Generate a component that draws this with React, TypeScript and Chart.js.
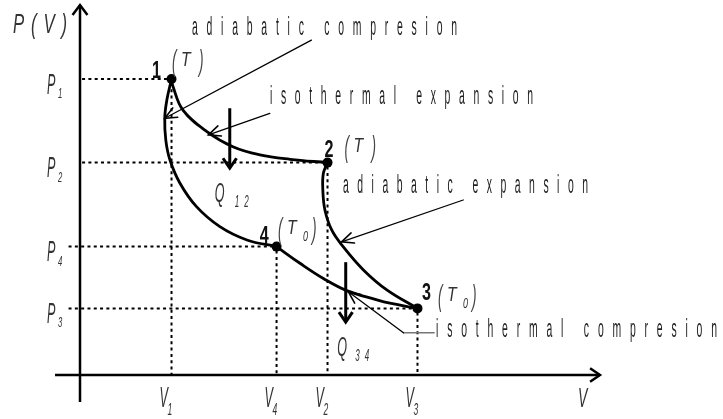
import React, { useEffect, useRef } from 'react';
import { Chart, registerables } from 'chart.js';

Chart.register(...registerables);

// ---------- DATA (arbitrary V / P units) ----------
const stateNames = ['1', '2', '3', '4'];
const stateTemps = ['T', 'T', 'T0', 'T0'];
const stateV = [1.76, 4.76, 6.49, 3.78];
const stateP = [8.0, 5.74, 1.8, 3.47];

// curve samples
const isoExpV = [1.76, 1.79, 1.98, 2.44, 2.94, 3.46, 4.04, 4.76];
const isoExpP = [8.0, 7.79, 7.16, 6.58, 6.17, 5.95, 5.83, 5.74];
const adiExpV = [4.76, 4.68, 4.67, 4.71, 4.84, 5.06, 5.45, 5.9, 6.49];
const adiExpP = [5.74, 5.45, 5.0, 4.46, 3.92, 3.47, 2.84, 2.3, 1.8];
const isoCompV = [6.49, 5.96, 5.71, 5.13, 4.68, 4.23, 3.78];
const isoCompP = [1.8, 1.94, 2.03, 2.28, 2.61, 3.02, 3.47];
const adiCompV = [3.78, 3.21, 2.69, 2.24, 1.92, 1.73, 1.65, 1.63, 1.67, 1.76];
const adiCompP = [3.47, 3.65, 4.01, 4.55, 5.19, 5.81, 6.35, 6.95, 7.43, 8.0];

// process annotations (leader tail -> arrow head)
const processNames = ['adiabatic compresion', 'isothermal expansion', 'adiabatic expansion', 'isothermal compresion'];
const leaderTailV = [4.45, 3.65, 7.37, 6.22];
const leaderTailP = [9.05, 7.07, 4.73, 1.14];
const leaderHeadV = [1.63, 2.47, 5.03, 5.16];
const leaderHeadP = [6.94, 6.49, 3.6, 2.25];
const leaderStubV = [NaN, NaN, NaN, 6.81]; // grey horizontal stub (text side)

// heat arrows
const heatNames = ['12', '34'];
const heatV = [2.88, 5.11];
const heatTopP = [7.21, 3.05];
const heatBotP = [5.59, 1.43];

// guide start (V) for the horizontal dotted lines of each state
const guideStartV = [0.04, 0.04, -0.22, -0.22];

const axisLabelY = 'P(V)';
const axisLabelX = 'V';

// ---------- LAYOUT (pixels / styles) ----------
const FONT = '"Liberation Sans", Arial, sans-serif';
const TEXT = '#1e1e1e';
const procText = [
  { x: 192, y: 35, w: 265 },
  { x: 270, y: 104, w: 263 },
  { x: 343, y: 193, w: 245 },
  { x: 436, y: 337, w: 281 },
];
const digitOff = [
  [-19.5, -1],
  [-3, -5.5],
  [4.5, -8.5],
  [-16.7, -3.5],
];
const parenOff = [
  [0.5, -8],
  [17, -5.5],
  [20.5, -2.5],
  [1.5, -7.5],
];
const heatQdx = [-15, -8.5];
const heatSubDx = [20, 18];

type TOpts = { size: number; sx: number; width?: number; gap?: number; italic?: boolean; bold?: boolean; color?: string };

function txt(ctx: CanvasRenderingContext2D, text: string, x: number, y: number, o: TOpts) {
  ctx.save();
  ctx.font = `${o.italic ? 'italic ' : ''}${o.bold ? 'bold ' : ''}${o.size}px ${FONT}`;
  ctx.fillStyle = o.color || TEXT;
  ctx.textBaseline = 'alphabetic';
  ctx.textAlign = 'left';
  (ctx as any).letterSpacing = '0px';
  const w0 = ctx.measureText(text).width * o.sx;
  const n = Array.from(text).length;
  let gap = o.gap ?? 0;
  if (o.width != null && n > 1) gap = (o.width - w0) / (n - 1);
  ctx.translate(x, y);
  ctx.scale(o.sx, 1);
  (ctx as any).letterSpacing = `${gap / o.sx}px`;
  ctx.fillText(text, 0, 0);
  ctx.restore();
}

function line(ctx: CanvasRenderingContext2D, x1: number, y1: number, x2: number, y2: number) {
  ctx.beginPath();
  ctx.moveTo(x1, y1);
  ctx.lineTo(x2, y2);
  ctx.stroke();
}

function head(ctx: CanvasRenderingContext2D, tx: number, ty: number, fx: number, fy: number, len: number, ang: number) {
  const a = Math.atan2(fy - ty, fx - tx);
  ctx.beginPath();
  ctx.moveTo(tx + len * Math.cos(a + ang), ty + len * Math.sin(a + ang));
  ctx.lineTo(tx, ty);
  ctx.lineTo(tx + len * Math.cos(a - ang), ty + len * Math.sin(a - ang));
  ctx.stroke();
}

const diagramPlugin = {
  id: 'diagram',
  beforeDatasetsDraw(chart: any) {
    const ctx: CanvasRenderingContext2D = chart.ctx;
    const xs = chart.scales.x;
    const ys = chart.scales.y;
    const X = (v: number) => xs.getPixelForValue(v);
    const Y = (p: number) => ys.getPixelForValue(p);
    ctx.save();
    // dotted guides
    ctx.strokeStyle = '#000';
    ctx.lineWidth = 2;
    ctx.setLineDash([3, 3.3]);
    for (let i = 0; i < stateV.length; i++) {
      line(ctx, X(guideStartV[i]), Y(stateP[i]), X(stateV[i]), Y(stateP[i]));
      line(ctx, X(stateV[i]), Y(stateP[i]) + 4, X(stateV[i]), Y(0));
    }
    ctx.setLineDash([]);
    // axes
    ctx.lineWidth = 2.5;
    ctx.lineCap = 'butt';
    line(ctx, X(0), Y(-0.73), X(0), Y(10));
    line(ctx, X(-0.48), Y(0), X(10), Y(0));
    head(ctx, X(0), Y(10), X(0), Y(9), 12.5, 0.64);
    head(ctx, X(10), Y(0), X(9), Y(0), 12, 0.6);
    ctx.restore();
  },
  afterDatasetsDraw(chart: any) {
    const ctx: CanvasRenderingContext2D = chart.ctx;
    const xs = chart.scales.x;
    const ys = chart.scales.y;
    const X = (v: number) => xs.getPixelForValue(v);
    const Y = (p: number) => ys.getPixelForValue(p);
    ctx.save();
    ctx.lineCap = 'round';
    // leaders
    for (let i = 0; i < processNames.length; i++) {
      const tx = X(leaderTailV[i]), ty = Y(leaderTailP[i]);
      const hx = X(leaderHeadV[i]), hy = Y(leaderHeadP[i]);
      if (!isNaN(leaderStubV[i])) {
        ctx.strokeStyle = '#777';
        ctx.lineWidth = 1.6;
        line(ctx, X(leaderStubV[i]), ty, tx, ty);
      }
      ctx.strokeStyle = '#000';
      ctx.lineWidth = 1.3;
      line(ctx, tx, ty, hx, hy);
      ctx.lineWidth = 1.6;
      head(ctx, hx, hy, tx, ty, 13, 0.42);
      const t = procText[i];
      txt(ctx, processNames[i], t.x, t.y, { size: 26, sx: 0.4, width: t.w });
    }
    // heat arrows
    for (let i = 0; i < heatNames.length; i++) {
      const x = X(heatV[i]);
      const y1 = Y(heatTopP[i]);
      const y2 = Y(heatBotP[i]);
      ctx.strokeStyle = '#000';
      ctx.lineWidth = 3;
      ctx.lineCap = 'butt';
      line(ctx, x, y1, x, y2 - 1);
      ctx.lineJoin = 'miter';
      head(ctx, x, y2, x, y1, 12, 0.6);
      txt(ctx, 'Q', x + heatQdx[i], y2 + 34, { size: 28, sx: 0.45, italic: true, color: '#333' });
      txt(ctx, heatNames[i], x + heatQdx[i] + heatSubDx[i], y2 + 39, { size: 16, sx: 0.5, italic: true, width: 14, color: '#333' });
    }
    // state labels
    for (let i = 0; i < stateNames.length; i++) {
      const px = X(stateV[i]);
      const py = Y(stateP[i]);
      txt(ctx, stateNames[i], px + digitOff[i][0], py + digitOff[i][1], { size: 23, sx: 0.7, bold: true, color: '#111' });
      const x0 = px + parenOff[i][0];
      const b = py + parenOff[i][1];
      const temp = stateTemps[i];
      txt(ctx, '(', x0, b, { size: 30, sx: 0.45, italic: true, color: '#444' });
      txt(ctx, temp.charAt(0), x0 + 9, b - 5, { size: 21, sx: 0.75, italic: true, color: '#333' });
      if (temp.length > 1) {
        txt(ctx, temp.slice(1), x0 + 25, b + 2, { size: 15, sx: 0.6, italic: true, color: '#333' });
        txt(ctx, ')', x0 + 34, b, { size: 30, sx: 0.45, italic: true, color: '#444' });
      } else {
        txt(ctx, ')', x0 + 27, b, { size: 30, sx: 0.45, italic: true, color: '#444' });
      }
      // tick labels
      txt(ctx, 'P', X(0) - 33, py + 14.5, { size: 30, sx: 0.42, italic: true, color: '#333' });
      txt(ctx, stateNames[i], X(0) - 22, py + 19, { size: 14, sx: 0.55, italic: true, color: '#333' });
      const vx = X(stateV[i]);
      txt(ctx, 'V', vx - 12, Y(0) + 32, { size: 30, sx: 0.42, italic: true, color: '#333' });
      txt(ctx, stateNames[i], vx - 4, Y(0) + 40, { size: 17, sx: 0.5, italic: true, color: '#333' });
    }
    // axis titles
    txt(ctx, axisLabelY, 13, 33, { size: 28, sx: 0.6, italic: true, width: 54, color: '#333' });
    txt(ctx, axisLabelX, 578, 407, { size: 28, sx: 0.5, italic: true, color: '#333' });
    ctx.restore();
  },
};

function toPts(v: number[], p: number[]) {
  return v.map((x, i) => ({ x, y: p[i] }));
}

export default function App() {
  const ref = useRef<HTMLCanvasElement>(null);
  useEffect(() => {
    const canvas = ref.current!;
    const curve = (v: number[], p: number[]) => ({
      data: toPts(v, p),
      showLine: true,
      borderColor: '#000',
      borderWidth: 2.8,
      pointRadius: 0,
      tension: 0.4,
      fill: false,
      clip: false as any,
    });
    const chart = new Chart(canvas, {
      type: 'scatter',
      data: {
        datasets: [
          curve(isoExpV, isoExpP),
          curve(adiExpV, adiExpP),
          curve(isoCompV, isoCompP),
          curve(adiCompV, adiCompP),
          {
            data: toPts(stateV, stateP),
            showLine: false,
            pointRadius: 5,
            pointBackgroundColor: '#000',
            pointBorderWidth: 0,
            clip: false as any,
          } as any,
        ],
      },
      options: {
        responsive: false,
        animation: false,
        devicePixelRatio: 1,
        events: [],
        layout: { padding: { left: 80, right: 123, top: 5, bottom: 44 } },
        plugins: { legend: { display: false }, tooltip: { enabled: false } },
        scales: {
          x: { type: 'linear', display: false, min: 0, max: 10 },
          y: { type: 'linear', display: false, min: 0, max: 10 },
        },
      },
      plugins: [diagramPlugin as any],
    });
    return () => chart.destroy();
  }, []);
  return (
    <div style={{ position: 'absolute', left: 0, top: 0, width: 723, height: 419, background: '#fff' }}>
      <canvas ref={ref} width={723} height={419} style={{ display: 'block' }} />
    </div>
  );
}
